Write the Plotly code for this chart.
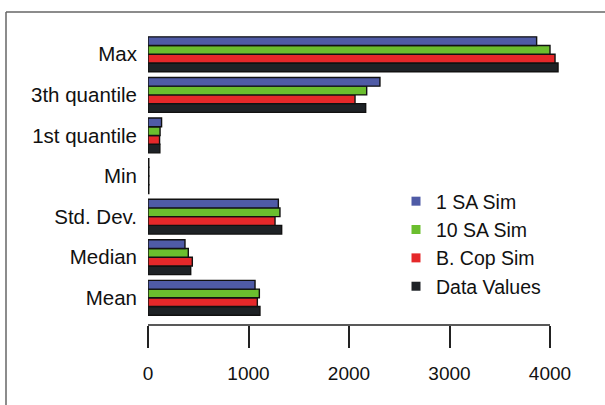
import plotly.graph_objects as go

categories = ["Mean", "Median", "Std. Dev.", "Min", "1st quantile", "3th quantile", "Max"]
sa1_sim = [1065, 368, 1297, 8, 135, 2308, 3867]
sa10_sim = [1108, 401, 1313, 8, 120, 2176, 4000]
bcop_sim = [1088, 441, 1264, 8, 115, 2060, 4050]
data_values = [1114, 425, 1330, 8, 118, 2166, 4080]
x_ticks = [0, 1000, 2000, 3000, 4000]

series = [
    ("Data Values", data_values, "#1E2226"),
    ("B. Cop Sim", bcop_sim, "#E5282A"),
    ("10 SA Sim", sa10_sim, "#6BBE2E"),
    ("1 SA Sim", sa1_sim, "#4F5BA6"),
]

W, H = 605, 405
L, R, T, B = 148, 25, 34, 80
pw, ph = W - L - R, H - T - B

fig = go.Figure()
for name, vals, col in series:
    fig.add_trace(go.Bar(
        y=categories, x=vals, orientation="h", name=name,
        marker=dict(color=col, line=dict(color="#111111", width=1.4)),
        showlegend=False,
    ))
for name, vals, col in series:
    fig.add_trace(go.Scatter(
        x=[None], y=[None], mode="markers", name=name,
        marker=dict(symbol="square", size=9, color=col),
        showlegend=True,
    ))

def px_x(p):
    return (p - L) / pw

def px_y(p):
    return (H - B - p) / ph

shapes = [
    dict(type="line", xref="x", yref="paper", x0=x_ticks[0], x1=x_ticks[-1], y0=0, y1=0,
         line=dict(color="#222222", width=1.6)),
    dict(type="line", xref="paper", yref="paper", x0=px_x(6), x1=px_x(615), y0=px_y(12), y1=px_y(12),
         line=dict(color="#666666", width=1.5)),
    dict(type="line", xref="paper", yref="paper", x0=px_x(6), x1=px_x(6), y0=px_y(12), y1=px_y(415),
         line=dict(color="#666666", width=1.5)),
]

fig.update_layout(
    width=W, height=H,
    margin=dict(l=L, r=R, t=T, b=B),
    paper_bgcolor="white", plot_bgcolor="white",
    barmode="group", bargap=0.14, bargroupgap=0,
    font=dict(family="Liberation Sans, Arial, sans-serif", size=19, color="#111111"),
    xaxis=dict(range=[0, pw / 0.1005], tickvals=x_ticks, ticktext=[str(v) for v in x_ticks],
               ticks="outside", ticklen=22, tickwidth=1.6, tickcolor="#222222",
               showline=False, showgrid=False, zeroline=False, ticklabelstandoff=9,
               tickfont=dict(size=19)),
    yaxis=dict(type="category", categoryorder="array", categoryarray=categories,
               range=[-0.67, 6.5], showgrid=False, zeroline=False, showline=False,
               ticks="", ticklabelstandoff=10, tickfont=dict(size=20.5)),
    legend=dict(x=px_x(396), y=px_y(182), xanchor="left", yanchor="top",
                bgcolor="rgba(0,0,0,0)", traceorder="reversed", font=dict(size=19.5)),
    shapes=shapes,
)

fig.write_html("out.html")
